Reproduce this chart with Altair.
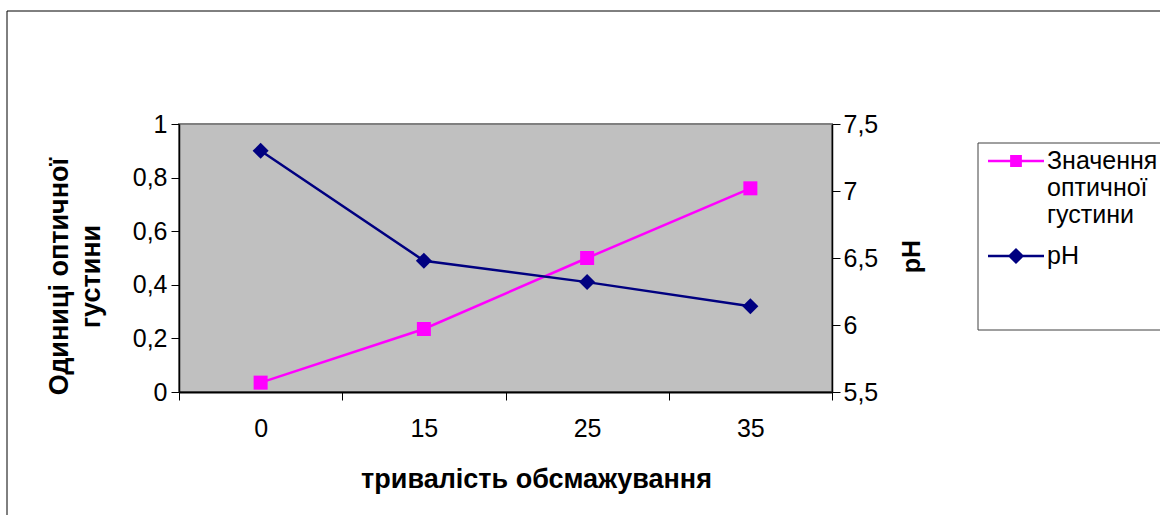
import altair as alt
import pandas as pd

# Roasting time categories and measured values
minutes = ["0", "15", "25", "35"]
optical_density = [0.035, 0.235, 0.50, 0.76]
ph_values = [7.30, 6.48, 6.32, 6.14]

series_names = ["Значення оптичної густини", "pH"]
series_colors = ["#FF00FF", "#000080"]

od_ticks = [0, 0.2, 0.4, 0.6, 0.8, 1]
ph_ticks = [5.5, 6, 6.5, 7, 7.5]

FONT = "Liberation Sans"

df = pd.DataFrame({"t": minutes, "od": optical_density, "ph": ph_values})

# Legend glyphs: a short line with a marker in the middle (unit box -1..1)
sym_square = "M-1,-0.045H1V0.045H-1Z M-0.21,-0.21H0.21V0.21H-0.21Z"
sym_diamond = "M-1,-0.045H1V0.045H-1Z M0,-0.29L0.29,0L0,0.29L-0.29,0Z"

comma = "replace(format(datum.value, '.2~f'), '.', ',')"

x_enc = alt.X(
    "t:N",
    sort=minutes,
    title="тривалість обсмажування",
    scale=alt.Scale(type="band", paddingInner=0, paddingOuter=0),
    axis=alt.Axis(
        labelAngle=0,
        tickBand="extent",
        tickSize=8,
        domainWidth=2,
        labelFontSize=25,
        labelPadding=16,
        titleFontSize=27,
        titleFontWeight="bold",
        titleX=357,
        titleY=95,
        titleAlign="center",
        titleBaseline="alphabetic",
    ),
)

od_line = alt.Chart(df).mark_line(
    color=series_colors[0],
    strokeWidth=2.5,
    point=alt.OverlayMarkDef(shape="square", size=196, filled=True,
                             color=series_colors[0], opacity=1),
).encode(
    x=x_enc,
    y=alt.Y(
        "od:Q",
        scale=alt.Scale(domain=[0, 1], nice=False, zero=False),
        axis=alt.Axis(
            orient="left",
            values=od_ticks,
            labelExpr=comma,
            tickSize=8,
            labelPadding=4,
            labelFontSize=25,
            domainWidth=1.5,
            title=["Одиниці оптичної", "густини"],
            titleFontSize=27,
            titleFontWeight="bold",
            titleAngle=270,
            titleX=-112,
            titleY=152,
            titleAlign="center",
            titleBaseline="alphabetic",
            titleLineHeight=32,
        ),
    ),
)

ph_line = alt.Chart(df).mark_line(
    color=series_colors[1],
    strokeWidth=2.5,
    point=alt.OverlayMarkDef(shape="diamond", size=256, filled=True,
                             color=series_colors[1], opacity=1),
).encode(
    x=x_enc,
    y=alt.Y(
        "ph:Q",
        scale=alt.Scale(domain=[5.5, 7.5], nice=False, zero=False),
        axis=alt.Axis(
            orient="right",
            values=ph_ticks,
            labelExpr=comma,
            tickSize=8,
            labelPadding=3,
            labelFontSize=25,
            domainWidth=1.5,
            title="pH",
            titleFontSize=25,
            titleFontWeight="bold",
            titleAngle=270,
            titleX=87,
            titleY=132,
            titleAlign="center",
            titleBaseline="alphabetic",
        ),
    ),
)

legend_props = dict(
    orient="none",
    legendX=809,
    legendY=9,
    title=None,
    labelFont=FONT,
    labelFontSize=25,
    labelColor="black",
    labelOffset=3,
    labelLimit=0,
    labelExpr="split(datum.label, ' ')",
    symbolSize=3136,
    symbolStrokeWidth=0,
    symbolOpacity=1,
    rowPadding=0,
    padding=0,
)

legend_layer = alt.Chart(
    alt.Data(values=[{"series": s} for s in series_names])
).mark_point(filled=True, opacity=0).encode(
    color=alt.Color("series:N", sort=series_names,
                    scale=alt.Scale(domain=series_names, range=series_colors),
                    legend=alt.Legend(**legend_props)),
    shape=alt.Shape("series:N", sort=series_names,
                    scale=alt.Scale(domain=series_names,
                                    range=[sym_square, sym_diamond]),
                    legend=alt.Legend(**legend_props)),
)

# Outer chart frame and legend frame
frame = alt.Chart(alt.Data(values=[{}])).mark_rect(
    fill="transparent", stroke="black", strokeWidth=1
).encode(x=alt.value(-172), x2=alt.value(995), y=alt.value(-113), y2=alt.value(410))

legend_box = alt.Chart(alt.Data(values=[{}])).mark_rect(
    fill="transparent", stroke="#404040", strokeWidth=1
).encode(x=alt.value(799), x2=alt.value(995), y=alt.value(19), y2=alt.value(206))

chart = alt.layer(
    frame, legend_box, od_line, ph_line, legend_layer
).resolve_scale(
    y="independent"
).properties(
    width=653,
    height=268,
    autosize=alt.AutoSizeParams(type="none"),
    padding={"left": 179, "top": 124, "right": 328, "bottom": 123},
    background="white",
    view=alt.ViewBackground(fill="#C0C0C0", stroke="#808080", strokeWidth=2),
).configure_axis(
    labelFont=FONT,
    titleFont=FONT,
    labelColor="black",
    titleColor="black",
    tickColor="black",
    domainColor="black",
    grid=False,
)

chart.save("out.html", embed_options={"renderer": "svg", "actions": False})
